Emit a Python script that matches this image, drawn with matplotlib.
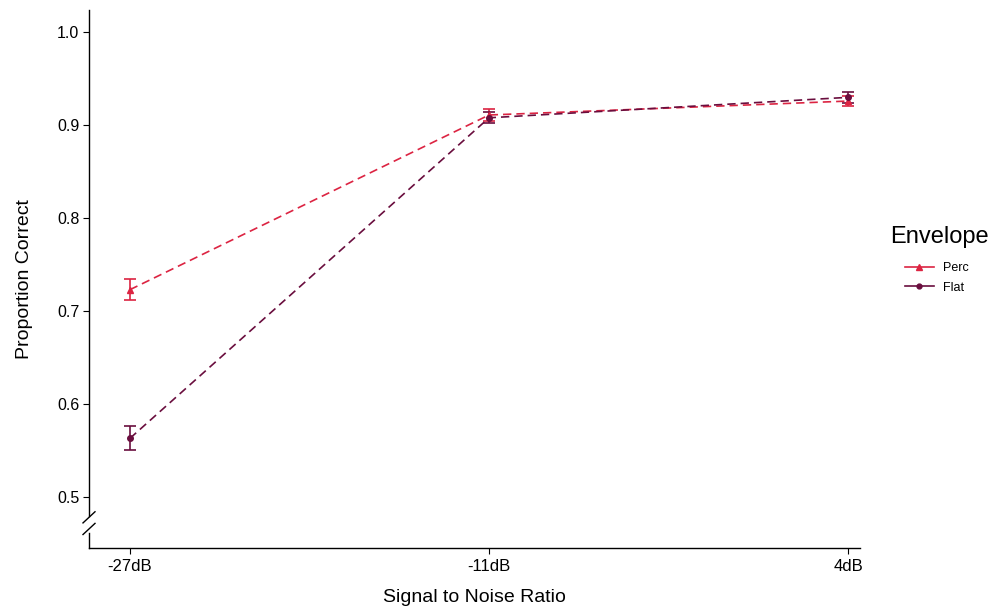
import numpy as np
import matplotlib
matplotlib.use("Agg")
import matplotlib.pyplot as plt
from matplotlib.lines import Line2D

plt.rcParams['font.family'] = ['Liberation Sans', 'DejaVu Sans']

snr = ['-27dB', '-11dB', '4dB']
perc = [0.723, 0.911, 0.926]
perc_err = [0.011, 0.006, 0.005]
flat = [0.563, 0.908, 0.930]
flat_err = [0.013, 0.006, 0.006]

perc_col = '#DC2442'
flat_col = '#6A0E3E'

W, H = 992, 613
fig = plt.figure(figsize=(W / 100, H / 100), dpi=100)
ax = fig.add_axes([89 / W, 1 - 548 / H, (860 - 89) / W, (548 - 10) / H])
x = np.arange(len(snr))

ax.errorbar(x, perc, yerr=perc_err, color=perc_col, ls='--', lw=1.2, marker='^',
            ms=4.5, capsize=4.3, elinewidth=1.2, capthick=1.2, dashes=(5, 3))
ax.errorbar(x, flat, yerr=flat_err, color=flat_col, ls='--', lw=1.2, marker='o',
            ms=4, capsize=4.3, elinewidth=1.2, capthick=1.2, dashes=(5, 3))

ax.set_xlim(-0.114, 2.033)
ax.set_ylim(0.445, 1.024)
ax.set_xticks(x)
ax.set_xticklabels(snr)
ax.set_yticks([0.5, 0.6, 0.7, 0.8, 0.9, 1.0])
ax.tick_params(labelsize=12, length=4, width=0.8, colors='black', pad=4)
ax.tick_params(axis='y', labelsize=11.5, pad=3)
ax.set_xlabel('Signal to Noise Ratio', fontsize=14, labelpad=11)
ax.set_ylabel('Proportion Correct', fontsize=14, labelpad=17)

for s in ['top', 'right', 'left']:
    ax.spines[s].set_visible(False)
ax.spines['bottom'].set_linewidth(1.0)

# broken y axis
y0, y1 = 0.445, 1.024
def fy(v):
    return (v - y0) / (y1 - y0)
tr = ax.transAxes
ax.plot([0, 0], [fy(0.4795), 1], transform=tr, color='black', lw=1.0, clip_on=False)
ax.plot([0, 0], [0, fy(0.4615)], transform=tr, color='black', lw=1.0, clip_on=False)
dx = 6 / (860 - 89)
ax.plot([-dx, dx], [fy(0.4720), fy(0.4840)], transform=tr, color='black', lw=1.0, clip_on=False)
ax.plot([-dx, dx], [fy(0.4595), fy(0.4715)], transform=tr, color='black', lw=1.0, clip_on=False)

handles = [Line2D([], [], color=perc_col, marker='^', ms=4, lw=1.2),
           Line2D([], [], color=flat_col, marker='o', ms=3.5, lw=1.2)]
fig.text(890 / W, 1 - 237 / H, 'Envelope', fontsize=17, va='center', ha='left')
fig.legend(handles, ['Perc', 'Flat'], loc='upper left',
           bbox_to_anchor=(905 / W, 1 - 262 / H), frameon=False, fontsize=9,
           handlelength=2.3, handletextpad=0.7, labelspacing=0.6,
           borderpad=0, borderaxespad=0)

fig.savefig('out.png', dpi=100)
